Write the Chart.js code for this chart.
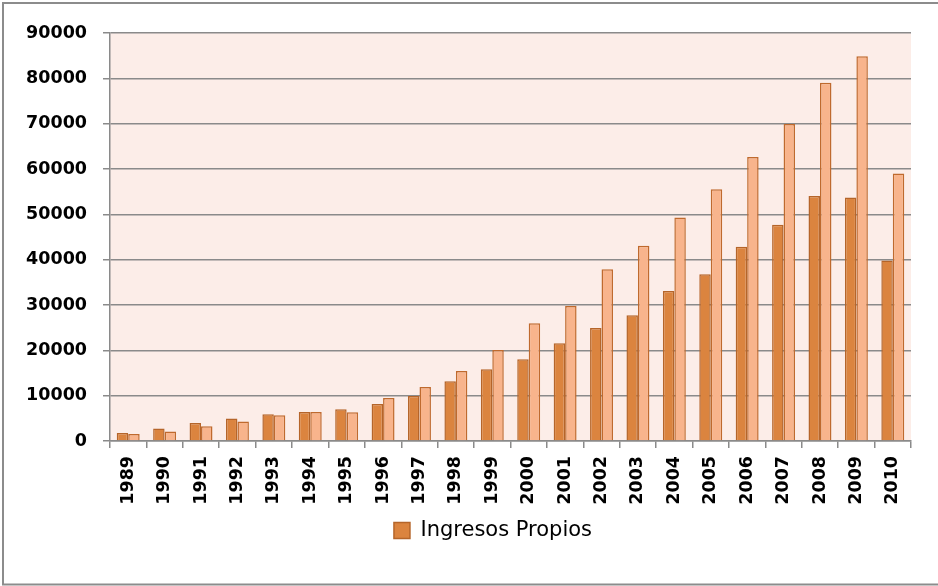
<!DOCTYPE html>
<html>
<head>
<meta charset="utf-8">
<script src="https://cdn.jsdelivr.net/npm/chart.js@4/dist/chart.umd.min.js"></script>
<style>
  html, body { margin: 0; padding: 0; background: #fff; }
  #wrap { width: 938px; height: 586px; }
</style>
</head>
<body>
<div id="wrap"><canvas id="ingresos_chart"></canvas></div>
<script>
const years = ["1989", "1990", "1991", "1992", "1993", "1994", "1995", "1996", "1997", "1998", "1999",
  "2000", "2001", "2002", "2003", "2004", "2005", "2006", "2007", "2008", "2009", "2010"];
const ingresosPropios = [1770, 2740, 3970, 4940, 5890, 6400, 7000, 8170, 9930, 13180, 15830,
  18040, 21570, 24950, 27750, 33110, 36800, 42830, 47680, 54020, 53730, 39820];
const segundaSerie = [1550, 2070, 3240, 4280, 5670, 6400, 6330, 9490, 11920, 15450, 20090,
  25980, 29800, 37900, 43050, 49320, 55560, 62620, 69910, 79030, 84850, 59030];
const yTicks = [0, 10000, 20000, 30000, 40000, 50000, 60000, 70000, 80000, 90000];

(function () {
  const grapharea = document.getElementById("ingresos_chart");
  const axisFont = { family: "'DejaVu Sans'", size: 17.5, weight: "bold" };
  const gridGray = "#8a8a8a";

  // fondo blanco, marco y fondo del area de trazado
  const fondo = {
    id: "fondo",
    afterLayout(chart) {
      // deja sitio a las etiquetas del eje y (si no, se recortan)
      chart.scales.y.left = 0;
    },
    beforeDraw(chart) {
      const ctx = chart.ctx;
      const a = chart.chartArea;
      ctx.save();
      ctx.fillStyle = "#ffffff";
      ctx.fillRect(0, 0, chart.width, chart.height);
      ctx.fillStyle = "#fcede8";
      ctx.fillRect(a.left, a.top, a.right - a.left, a.bottom - a.top);
      ctx.strokeStyle = "#8c8c8c";
      ctx.lineWidth = 2;
      ctx.beginPath();
      ctx.moveTo(chart.width, 3);
      ctx.lineTo(3, 3);
      ctx.lineTo(3, 584.5);
      ctx.lineTo(chart.width, 584.5);
      ctx.stroke();
      ctx.restore();
    },
  };

  const data = {
    labels: years,
    datasets: [
      {
        label: "Ingresos Propios",
        data: ingresosPropios,
        backgroundColor: "#db843f",
        borderColor: "#b5652a",
        borderWidth: 1.5,
        categoryPercentage: 0.63,
        barPercentage: 1,
      },
      {
        label: "",
        data: segundaSerie,
        backgroundColor: "#f8b48c",
        borderColor: "#bf6a2e",
        borderWidth: 1.5,
        categoryPercentage: 0.63,
        barPercentage: 1,
      },
    ],
  };

  const config = {
    type: "bar",
    data: data,
    plugins: [fondo],
    options: {
      responsive: true,
      maintainAspectRatio: false,
      animation: false,
      layout: { padding: { left: 75, right: 27, top: 33, bottom: 35 } },
      scales: {
        y: {
          min: 0,
          max: 90000,
          afterFit: (scale) => { scale.width = 35; },
          afterBuildTicks: (scale) => { scale.ticks = yTicks.map((v) => ({ value: v })); },
          ticks: {
            color: "#000",
            font: axisFont,
            padding: 16,
            callback: (v) => String(v),
          },
          grid: { color: gridGray, lineWidth: 1.5, tickLength: 7 },
          border: { color: gridGray, width: 1.5 },
        },
        x: {
          afterFit: (scale) => { scale.height = 69; },
          ticks: {
            color: "#000",
            font: axisFont,
            minRotation: 90,
            maxRotation: 90,
            autoSkip: false,
            padding: 8,
          },
          grid: { display: true, drawOnChartArea: false, offset: true, color: gridGray, lineWidth: 1.5, tickLength: 7 },
          border: { color: gridGray, width: 1.5 },
        },
      },
      plugins: {
        tooltip: { enabled: false },
        legend: {
          position: "bottom",
          labels: {
            boxWidth: 16,
            boxHeight: 16,
            padding: 10,
            color: "#000",
            font: { family: "'DejaVu Sans'", size: 21 },
            filter: (item) => item.text !== "",
          },
        },
      },
    },
  };

  new Chart(grapharea, config);
})();
</script>
</body>
</html>
